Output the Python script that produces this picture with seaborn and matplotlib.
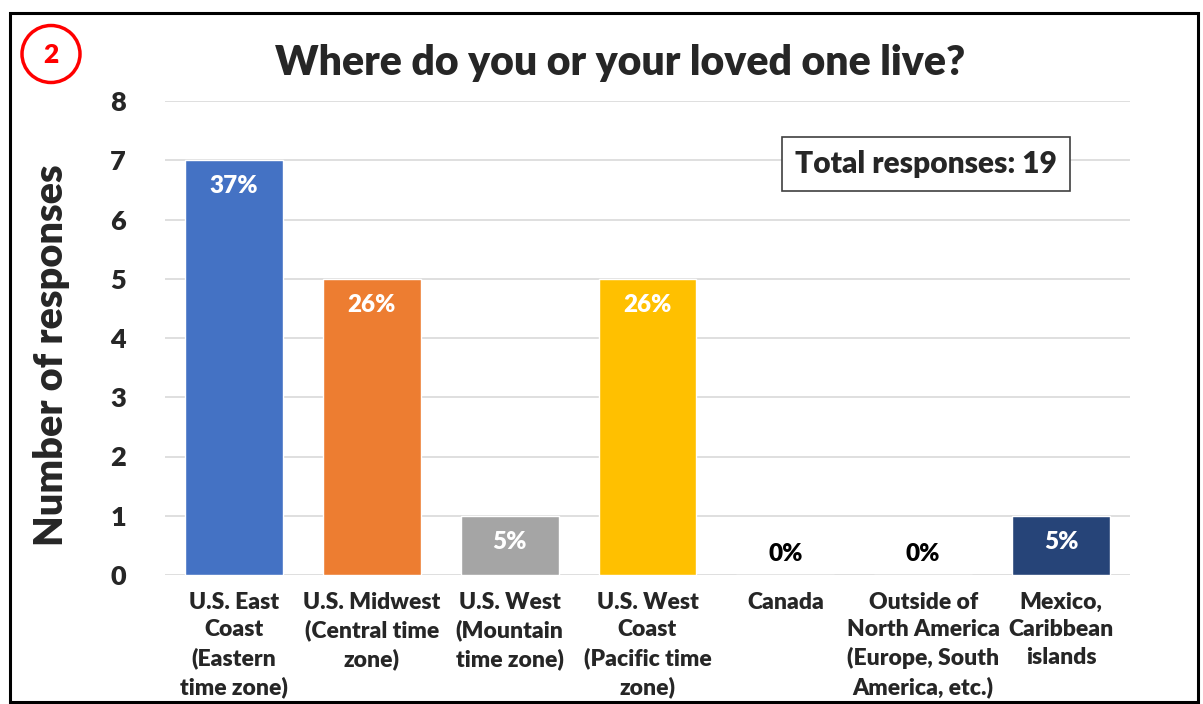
import matplotlib
matplotlib.use("Agg")
import matplotlib.pyplot as plt
import seaborn as sns
import pandas as pd
from matplotlib.patches import Rectangle, Ellipse

categories = [
    "U.S. East\nCoast\n(Eastern\ntime zone)",
    "U.S. Midwest\n(Central time\nzone)",
    "U.S. West\n(Mountain\ntime zone)",
    "U.S. West\nCoast\n(Pacific time\nzone)",
    "Canada",
    "Outside of\nNorth America\n(Europe, South\nAmerica, etc.)",
    "Mexico,\nCaribbean\nislands",
]
counts = [7, 5, 1, 5, 0, 0, 1]
pct_labels = ["37%", "26%", "5%", "26%", "0%", "0%", "5%"]
colors = ["#4472C4", "#ED7D31", "#A5A5A5", "#FFC000", "#5B9BD5", "#70AD47", "#264478"]
yticks = [0, 1, 2, 3, 4, 5, 6, 7, 8]
title = "Where do you or your loved one live?"
total_text = "Total responses: 19"

sns.set_theme(style="white")
plt.rcParams["font.family"] = ["Lato", "DejaVu Sans"]
W = 800  # heavy weight to match the bold look

df = pd.DataFrame({"cat": categories, "count": counts})

fig = plt.figure(figsize=(12.03, 7.04), dpi=100)
ax = fig.add_axes([165 / 1203, 1 - 575 / 704, (1130 - 165) / 1203, (575 - 101) / 704])

sns.barplot(data=df, x="cat", y="count", hue="cat", palette=colors,
            legend=False, width=0.71, ax=ax, saturation=1)

ax.set_ylim(0, 8)
ax.set_xlim(-0.5, len(categories) - 0.5)
ax.set_yticks(yticks)
ax.yaxis.grid(True, color="#D9D9D9", linewidth=1.2)
ax.set_axisbelow(True)
for s in ax.spines.values():
    s.set_visible(False)
ax.tick_params(axis="both", length=0)
ax.tick_params(axis="y", pad=28)
ax.tick_params(axis="x", pad=12)
for lbl in ax.get_yticklabels():
    lbl.set_fontsize(19.5)
    lbl.set_fontweight(W)
for lbl in ax.get_xticklabels():
    lbl.set_fontsize(16.5)
    lbl.set_fontweight(W)
    lbl.set_linespacing(1.39)
    lbl.set_verticalalignment("top")
ax.set_xlabel("")
ax.set_ylabel("Number of responses", fontsize=28.5, fontweight=W, labelpad=29)
ax.yaxis.label.set_y(0.464)

for i, (c, p) in enumerate(zip(counts, pct_labels)):
    if c > 0:
        ax.text(i, c - 0.44, p, ha="center", va="center", color="white",
                fontsize=17.5, fontweight=W)
    else:
        ax.text(i, 0.35, p, ha="center", va="center", color="black",
                fontsize=17.5, fontweight=W)

fig.text(620 / 1203, 1 - 63 / 704, title, ha="center", va="center",
         fontsize=29.5, fontweight=W)

fig.text(926 / 1203, 1 - 164 / 704, total_text, ha="center", va="center",
         fontsize=21.5, fontweight=W,
         bbox=dict(boxstyle="square,pad=0.45", facecolor="white",
                   edgecolor="#404040", linewidth=1.2))

# red circled number
circ = Ellipse((51 / 1203, 1 - 54 / 704), 58 / 1203, 57 / 704,
               transform=fig.transFigure, fill=False,
               edgecolor="#FF0000", linewidth=2.5)
fig.patches.append(circ)
fig.text(51 / 1203, 1 - 55 / 704, "2", ha="center", va="center", color="#FF0000",
         fontsize=19, fontweight=W)

# outer frame
frame = Rectangle((10 / 1203, 1 - 702 / 704), (1198 - 10) / 1203, (702 - 13) / 704,
                  transform=fig.transFigure, fill=False, edgecolor="black", linewidth=2.2)
fig.patches.append(frame)

fig.savefig("out.png", dpi=100)
